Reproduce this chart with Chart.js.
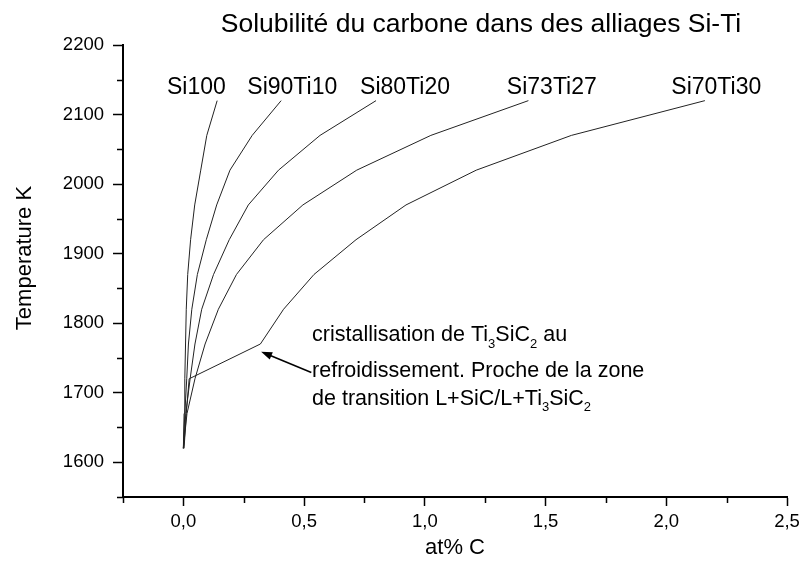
<!DOCTYPE html>
<html>
<head>
<meta charset="utf-8">
<script src="https://cdn.jsdelivr.net/npm/chart.js@4.4.1/dist/chart.umd.min.js"></script>
<style>
    html, body { margin: 0; padding: 0; background: #fff; }
</style>
</head>
<body>
<canvas id="solubility-chart" width="805" height="564"></canvas>
<script>
// Temperatures (K) at which each alloy was computed
const temperatures = [1620, 1670, 1720, 1770, 1820, 1870, 1920, 1970, 2020, 2070, 2120];

// Carbon solubility (at% C) for each alloy
const si100    = [0.000, 0.003, 0.006, 0.009, 0.012, 0.018, 0.030, 0.047, 0.072, 0.097, 0.140];
const si90ti10 = [0.000, 0.006, 0.014, 0.021, 0.035, 0.058, 0.095, 0.138, 0.193, 0.285, 0.405];
const si80ti20 = [0.000, 0.010, 0.028, 0.048, 0.076, 0.125, 0.190, 0.269, 0.394, 0.566, 0.798];
const si73ti27 = [0.000, 0.015, 0.048, 0.090, 0.145, 0.220, 0.332, 0.495, 0.718, 1.025, 1.429];
const si70ti30 = [0.003, 0.012, 0.024, 0.319, 0.415, 0.541, 0.715, 0.922, 1.213, 1.607, 2.160];

const seriesNames = ['Si100', 'Si90Ti10', 'Si80Ti20', 'Si73Ti27', 'Si70Ti30'];
const seriesValues = [si100, si90ti10, si80ti20, si73ti27, si70ti30];

// Axis ticks
const xTickValues = [0, 0.5, 1, 1.5, 2, 2.5];
const xMinorTicks = [-0.25, 0.25, 0.75, 1.25, 1.75, 2.25];
const yTickValues = [1600, 1700, 1800, 1900, 2000, 2100, 2200];
const yMinorTicks = [1550, 1650, 1750, 1850, 1950, 2050, 2150];

const FONT = '"Liberation Sans", Arial, sans-serif';

// Curve labels, placed in data units (x centre, y baseline)
const curveLabels = [
    { text: 'Si100', x: 0.054 },
    { text: 'Si90Ti10', x: 0.451 },
    { text: 'Si80Ti20', x: 0.918 },
    { text: 'Si73Ti27', x: 1.526 },
    { text: 'Si70Ti30', x: 2.207 }
];

// draws text with subscript parts
function drawRich(ctx, parts, x, y, size) {
    parts.forEach(p => {
        const s = p.sub ? Math.round(size * 0.62) : size;
        ctx.font = s + 'px ' + FONT;
        ctx.fillText(p.t, x, p.sub ? y + size * 0.3 : y);
        x += ctx.measureText(p.t).width;
    });
}

const extrasPlugin = {
    id: 'extras',
    afterDraw(chart) {
        const { ctx, chartArea, scales: { x, y } } = chart;
        ctx.save();
        ctx.fillStyle = '#000';
        ctx.strokeStyle = '#000';

        // minor ticks (shorter than the major ones)
        ctx.lineWidth = 1.5;
        ctx.beginPath();
        xMinorTicks.forEach(v => {
            const px = Math.round(x.getPixelForValue(v)) + 0.5;
            ctx.moveTo(px, chartArea.bottom);
            ctx.lineTo(px, chartArea.bottom + 6);
        });
        yMinorTicks.forEach(v => {
            const py = Math.round(y.getPixelForValue(v)) + 0.5;
            ctx.moveTo(chartArea.left, py);
            ctx.lineTo(chartArea.left - 6, py);
        });
        ctx.stroke();

        // title
        ctx.font = '26.5px ' + FONT;
        ctx.textAlign = 'center';
        ctx.textBaseline = 'alphabetic';
        ctx.fillText('Solubilité du carbone dans des alliages Si-Ti', chartArea.left + 358, 32);

        // y axis title
        ctx.save();
        ctx.translate(25, 258);
        ctx.rotate(-Math.PI / 2);
        ctx.font = '22px ' + FONT;
        ctx.textBaseline = 'middle';
        ctx.fillText('Temperature K', 0, 0);
        ctx.restore();

        // curve labels
        ctx.font = '23px ' + FONT;
        curveLabels.forEach(l => {
            ctx.fillText(l.text, x.getPixelForValue(l.x), y.getPixelForValue(2129));
        });

        // annotation text
        ctx.textAlign = 'left';
        const tx = x.getPixelForValue(0.533);
        drawRich(ctx, [
            { t: 'cristallisation de Ti' }, { t: '3', sub: true },
            { t: 'SiC' }, { t: '2', sub: true }, { t: ' au' }
        ], tx, y.getPixelForValue(1774), 21.5);
        drawRich(ctx, [{ t: 'refroidissement. Proche de la zone' }], tx, y.getPixelForValue(1723), 21.5);
        drawRich(ctx, [
            { t: 'de transition L+SiC/L+Ti' }, { t: '3', sub: true },
            { t: 'SiC' }, { t: '2', sub: true }
        ], tx, y.getPixelForValue(1683), 21.5);

        // arrow pointing to the kink of Si70Ti30
        const x0 = x.getPixelForValue(0.530), y0 = y.getPixelForValue(1729);
        const x1 = x.getPixelForValue(0.322), y1 = y.getPixelForValue(1759);
        const ang = Math.atan2(y1 - y0, x1 - x0);
        ctx.lineWidth = 1.5;
        ctx.beginPath();
        ctx.moveTo(x0, y0);
        ctx.lineTo(x1 - 8 * Math.cos(ang), y1 - 8 * Math.sin(ang));
        ctx.stroke();
        ctx.beginPath();
        ctx.moveTo(x1, y1);
        ctx.lineTo(x1 - 11 * Math.cos(ang) + 4 * Math.sin(ang), y1 - 11 * Math.sin(ang) - 4 * Math.cos(ang));
        ctx.lineTo(x1 - 11 * Math.cos(ang) - 4 * Math.sin(ang), y1 - 11 * Math.sin(ang) + 4 * Math.cos(ang));
        ctx.closePath();
        ctx.fill();

        ctx.restore();
    }
};

Chart.defaults.font.family = FONT;
Chart.defaults.color = '#000';

const chartElement = document.getElementById('solubility-chart');

let solubilityChart = new Chart(chartElement, {
    type: 'scatter',
    data: {
        datasets: seriesNames.map((name, i) => ({
            label: name,
            data: temperatures.map((t, j) => ({ x: seriesValues[i][j], y: t })),
            showLine: true,
            borderColor: '#222',
            borderWidth: 1,
            pointRadius: 0,
            fill: false
        }))
    },
    options: {
        responsive: false,
        animation: false,
        layout: {
            padding: { top: 45, right: 18, left: 0, bottom: 0 }
        },
        scales: {
            x: {
                type: 'linear',
                min: -0.25,
                max: 2.5,
                afterBuildTicks: scale => { scale.ticks = xTickValues.map(v => ({ value: v })); },
                afterFit: scale => { scale.height = 67; },
                ticks: {
                    autoSkip: false,
                    maxRotation: 0,
                    padding: 5,
                    font: { size: 18.5 },
                    callback: v => v.toFixed(1).replace('.', ',')
                },
                grid: {
                    drawOnChartArea: false,
                    tickLength: 9,
                    tickColor: '#000',
                    tickWidth: 1.5
                },
                border: { color: '#000', width: 2 },
                title: {
                    display: true,
                    text: 'at% C',
                    font: { size: 22 },
                    padding: { top: 0, bottom: 3 }
                }
            },
            y: {
                type: 'linear',
                min: 1550,
                max: 2200,
                afterBuildTicks: scale => { scale.ticks = yTickValues.map(v => ({ value: v })); },
                afterFit: scale => { scale.width = 123; },
                ticks: {
                    padding: 9,
                    font: { size: 18.5 },
                    callback: v => String(v)
                },
                grid: {
                    drawOnChartArea: false,
                    tickLength: 10,
                    tickColor: '#000',
                    tickWidth: 1.5
                },
                border: { color: '#000', width: 2 }
            }
        },
        plugins: {
            legend: { display: false },
            tooltip: { enabled: false }
        }
    },
    plugins: [extrasPlugin]
});
</script>
</body>
</html>
